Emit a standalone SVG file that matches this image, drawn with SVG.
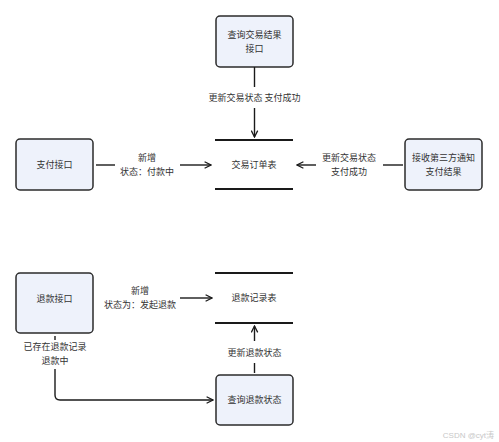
<svg xmlns="http://www.w3.org/2000/svg" width="499" height="442" viewBox="0 0 499 442">
<defs>
<style>
.box{fill:#eef2fb;stroke:#2b2b2b;stroke-width:1.5}
.t{font-family:"Noto Sans CJK SC","Liberation Sans",sans-serif;font-size:9px;fill:#333;text-anchor:middle}
.bar{stroke:#1a1a1a;stroke-width:2}
.ln{stroke:#1a1a1a;stroke-width:1.4;fill:none}
</style>
<marker id="ah" viewBox="0 0 10 10" refX="9" refY="5" markerWidth="8" markerHeight="8" markerUnits="userSpaceOnUse" orient="auto">
<path d="M1,1 L9,5 L1,9" fill="none" stroke="#1a1a1a" stroke-width="1.6"/>
</marker>
</defs>
<rect width="499" height="442" fill="#ffffff"/>
<g id="query-trade">
<rect class="box" x="216" y="16" width="77" height="51" rx="4"/>
<text class="t" x="254.5" y="38">查询交易结果</text>
<text class="t" x="254.5" y="52">接口</text>
</g>
<g id="trade-table">
<line class="bar" x1="215" y1="140" x2="293" y2="140"/>
<line class="bar" x1="215" y1="189" x2="293" y2="189"/>
<text class="t" x="254" y="168">交易订单表</text>
</g>
<g id="pay-api">
<rect class="box" x="16" y="139" width="77" height="51" rx="4"/>
<text class="t" x="54.5" y="168">支付接口</text>
</g>
<g id="notify">
<rect class="box" x="405" y="139" width="77" height="51" rx="4"/>
<text class="t" x="443.5" y="161">接收第三方通知</text>
<text class="t" x="443.5" y="175">支付结果</text>
</g>
<g id="refund-api">
<rect class="box" x="16" y="273" width="77" height="60" rx="4"/>
<text class="t" x="54.5" y="302">退款接口</text>
</g>
<g id="refund-table">
<line class="bar" x1="215" y1="273" x2="293" y2="273"/>
<line class="bar" x1="215" y1="323" x2="293" y2="323"/>
<text class="t" x="254" y="301">退款记录表</text>
</g>
<g id="query-refund">
<rect class="box" x="216" y="375" width="77" height="50" rx="4"/>
<text class="t" x="254.5" y="403">查询退款状态</text>
</g>
<g id="connectors">
<line class="ln" x1="254.5" y1="67" x2="254.5" y2="87"/>
<line class="ln" x1="254.5" y1="108" x2="254.5" y2="137" marker-end="url(#ah)"/>
<text class="t" x="254.5" y="101">更新交易状态 支付成功</text>
<line class="ln" x1="96" y1="165" x2="115" y2="165"/>
<line class="ln" x1="180" y1="165" x2="211" y2="165" marker-end="url(#ah)"/>
<text class="t" x="147" y="161">新增</text>
<text class="t" x="147" y="175">状态：付款中</text>
<line class="ln" x1="403" y1="165" x2="383" y2="165"/>
<line class="ln" x1="316" y1="165" x2="297" y2="165" marker-end="url(#ah)"/>
<text class="t" x="349" y="161">更新交易状态</text>
<text class="t" x="349" y="175">支付成功</text>
<line class="ln" x1="180" y1="298" x2="212" y2="298" marker-end="url(#ah)"/>
<text class="t" x="140" y="294">新增</text>
<text class="t" x="140" y="308">状态为：发起退款</text>
<line class="ln" x1="254.5" y1="373" x2="254.5" y2="363"/>
<line class="ln" x1="254.5" y1="341" x2="254.5" y2="326" marker-end="url(#ah)"/>
<text class="t" x="254.5" y="356">更新退款状态</text>
<line class="ln" x1="55" y1="336" x2="55" y2="340"/>
<path class="ln" d="M55,369 L55,395 Q55,400 60,400 L213,400" marker-end="url(#ah)"/>
<text class="t" x="55" y="350">已存在退款记录</text>
<text class="t" x="55" y="364">退款中</text>
</g>
<text x="494" y="438" font-family="Liberation Sans, Noto Sans CJK SC, sans-serif" font-size="8" fill="#c8c8c8" text-anchor="end">CSDN @cyt涛</text>
</svg>
